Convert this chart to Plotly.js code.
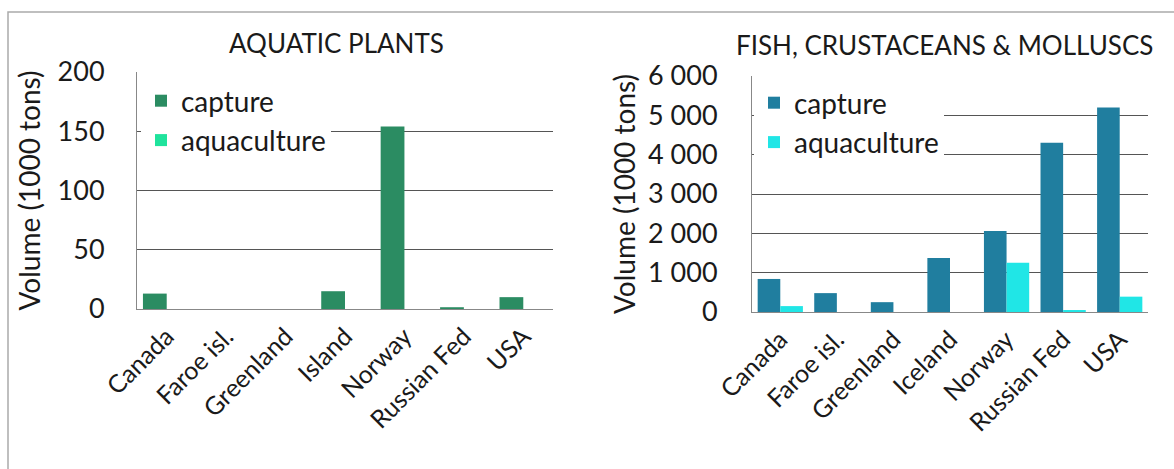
<!DOCTYPE html>
<html>
<head>
<meta charset="utf-8">
<script src="https://cdn.plot.ly/plotly-3.0.1.min.js"></script>
<style>
html,body{margin:0;padding:0;background:#fff;}
#chart{width:1174px;height:469px;}
</style>
</head>
<body>
<div id="chart"></div>
<script>
// ---- data ----
const plantCountries = ["Canada", "Faroe isl.", "Greenland", "Island", "Norway", "Russian Fed", "USA"];
const fishCountries  = ["Canada", "Faroe isl.", "Greenland", "Iceland", "Norway", "Russian Fed", "USA"];
const plantsCapture     = [13, 0, 0, 15, 154, 1.5, 10];
const plantsAquaculture = [0, 0, 0, 0, 0, 0, 0];
const fishCapture       = [840, 480, 250, 1370, 2060, 4300, 5200];
const fishAquaculture   = [150, 0, 0, 0, 1250, 50, 390];
const seriesNames = ["capture", "aquaculture"];
const titles = ["AQUATIC PLANTS", "FISH, CRUSTACEANS & MOLLUSCS"];
const yTitle = "Volume (1000 tons)";

const W = 1174, H = 469;
const px = v => v / W;
const py = v => 1 - v / H;
const FONT = "Lato, 'Open Sans', sans-serif";
const TXT = "#1a1a1a";

const traces = [
  {type: "bar", x: plantCountries, y: plantsCapture, name: seriesNames[0], xaxis: "x", yaxis: "y",
   legend: "legend", legendgroup: "a1",
   marker: {color: "#2b8c62", line: {width: 0}}},
  {type: "bar", x: plantCountries, y: plantsAquaculture, name: seriesNames[1], xaxis: "x", yaxis: "y",
   legend: "legend", legendgroup: "a2",
   marker: {color: "#1fe39c", line: {width: 0}}},
  {type: "bar", x: fishCountries, y: fishCapture, name: seriesNames[0], xaxis: "x2", yaxis: "y2",
   legend: "legend2", legendgroup: "b1",
   marker: {color: "#207e9f", line: {width: 0}}},
  {type: "bar", x: fishCountries, y: fishAquaculture, name: seriesNames[1], xaxis: "x2", yaxis: "y2",
   legend: "legend2", legendgroup: "b2",
   marker: {color: "#20e6e6", line: {width: 0}}}
];

const axisCommon = {
  showline: true, linecolor: "#888", linewidth: 1, ticks: "", zeroline: false,
  tickfont: {family: FONT, size: 27, color: TXT}
};
const xTickFont = {family: FONT, size: 25, color: TXT};
const yTitleFont = {family: FONT, size: 28, color: TXT};

const layout = {
  width: W, height: H,
  margin: {l: 0, r: 0, t: 0, b: 0},
  paper_bgcolor: "#fff", plot_bgcolor: "rgba(0,0,0,0)",
  barmode: "group", bargap: 0.2, bargroupgap: 0,
  separators: ". ",
  font: {family: FONT, color: TXT},
  xaxis: Object.assign({}, axisCommon, {domain: [px(137), px(553)], anchor: "y",
    tickangle: -45, tickfont: xTickFont, showgrid: false, ticklabelstandoff: 2}),
  yaxis: Object.assign({}, axisCommon, {domain: [py(309), py(72)], anchor: "x",
    range: [0, 200], dtick: 50, showgrid: true, gridcolor: "#555", gridwidth: 1,
    ticklabelstandoff: 26,
    title: {text: yTitle, font: yTitleFont, standoff: 8}}),
  xaxis2: Object.assign({}, axisCommon, {domain: [px(752), px(1148)], anchor: "y2",
    tickangle: -45, tickfont: xTickFont, showgrid: false, ticklabelstandoff: 2}),
  yaxis2: Object.assign({}, axisCommon, {domain: [py(312), py(76)], anchor: "x2",
    range: [0, 6000], dtick: 1000, separatethousands: true, showgrid: true, gridcolor: "#555", gridwidth: 1,
    ticklabelstandoff: 28,
    title: {text: yTitle, font: yTitleFont, standoff: 4}}),
  legend: {x: px(141), y: py(76), xanchor: "left", yanchor: "top", bgcolor: "#fff",
    font: {family: FONT, size: 28, color: TXT}, tracegroupgap: 4, traceorder: "normal"},
  legend2: {x: px(754), y: py(78), xanchor: "left", yanchor: "top", bgcolor: "#fff",
    font: {family: FONT, size: 28, color: TXT}, tracegroupgap: 4, traceorder: "normal"},
  annotations: [
    {text: titles[0], xref: "paper", yref: "paper", x: px(336), y: py(43), xanchor: "center", yanchor: "middle",
     showarrow: false, font: {family: FONT, size: 26, color: TXT}},
    {text: titles[1], xref: "paper", yref: "paper", x: px(944), y: py(45), xanchor: "center", yanchor: "middle",
     showarrow: false, font: {family: FONT, size: 26, color: TXT}}
  ],
  shapes: [
    {type: "rect", xref: "paper", yref: "paper", x0: px(8), x1: 1.02, y0: -0.02, y1: py(12),
     line: {color: "#aaa", width: 1.5}, fillcolor: "rgba(0,0,0,0)", layer: "below"}
  ]
};

Plotly.newPlot("chart", traces, layout, {displayModeBar: false, staticPlot: true});
</script>
</body>
</html>
